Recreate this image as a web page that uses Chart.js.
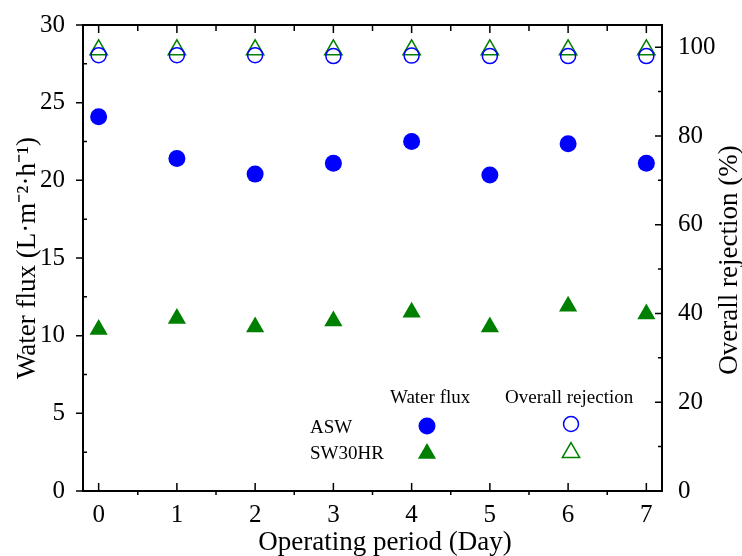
<!DOCTYPE html>
<html>
<head>
<meta charset="utf-8">
<script src="https://cdn.jsdelivr.net/npm/chart.js@4"></script>
<style>
  html, body { margin: 0; padding: 0; background: #fff; }
  #wrap { width: 742px; height: 556px; }
</style>
</head>
<body>
<div id="wrap"><canvas id="chart" width="742" height="556"></canvas></div>
<script>
// Datos
const days = [0, 1, 2, 3, 4, 5, 6, 7];
const aswFlux = [24.1, 21.4, 20.4, 21.1, 22.5, 20.35, 22.35, 21.1];
const sw30Flux = [10.4, 11.1, 10.55, 10.95, 11.5, 10.55, 11.9, 11.4];
const aswRejection = [98.2, 98.2, 98.2, 98.0, 98.1, 98.0, 98.0, 98.0];
const sw30Rejection = [99.4, 99.4, 99.4, 99.4, 99.4, 99.4, 99.4, 99.4];

const xTicks = [0, 1, 2, 3, 4, 5, 6, 7];
const fluxTicks = [0, 5, 10, 15, 20, 25, 30];
const rejTicks = [0, 20, 40, 60, 80, 100];

const BLUE = '#0000ff';
const GREEN = '#008000';
const FONT = "'Liberation Serif', 'Times New Roman', serif";

function pts(ys) {
  return days.map((d, i) => ({ x: d, y: ys[i] }));
}

// Ejes, marcas y leyenda dibujados a mano
const framePlugin = {
  id: 'frame',
  afterDraw(chart) {
    const ctx = chart.ctx;
    const a = chart.chartArea;
    const sx = chart.scales.x, sy = chart.scales.y, sr = chart.scales.y2;
    ctx.save();
    ctx.strokeStyle = '#000';
    ctx.lineWidth = 1.5;
    ctx.beginPath();
    // eje x: mayores hacia dentro, menores hacia fuera
    xTicks.forEach(v => {
      const px = sx.getPixelForValue(v);
      ctx.moveTo(px, a.bottom); ctx.lineTo(px, a.bottom - 8);
      ctx.moveTo(px, a.top); ctx.lineTo(px, a.top + 8);
    });
    for (let v = 0.5; v < 7.2; v += 1) {
      const px = sx.getPixelForValue(v);
      ctx.moveTo(px, a.bottom); ctx.lineTo(px, a.bottom + 4);
      ctx.moveTo(px, a.top); ctx.lineTo(px, a.top + 6);
    }
    // eje izquierdo: mayores hacia fuera, menores hacia dentro
    fluxTicks.forEach(v => {
      const py = sy.getPixelForValue(v);
      ctx.moveTo(a.left, py); ctx.lineTo(a.left - 7, py);
    });
    for (let v = 2.5; v < 30; v += 5) {
      const py = sy.getPixelForValue(v);
      ctx.moveTo(a.left, py); ctx.lineTo(a.left + 4, py);
    }
    // eje derecho: todo hacia dentro
    rejTicks.forEach(v => {
      const py = sr.getPixelForValue(v);
      ctx.moveTo(a.right, py); ctx.lineTo(a.right - 7, py);
    });
    for (let v = 10; v < 105; v += 20) {
      const py = sr.getPixelForValue(v);
      ctx.moveTo(a.right, py); ctx.lineTo(a.right - 4, py);
    }
    ctx.stroke();

    ctx.lineWidth = 2;
    ctx.strokeRect(a.left, a.top, a.right - a.left, a.bottom - a.top);

    // títulos de los ejes
    ctx.fillStyle = '#000';
    ctx.font = '27px ' + FONT;
    ctx.textAlign = 'center';
    ctx.textBaseline = 'middle';
    ctx.fillText('Operating period (Day)', 385, 543);

    ctx.save();
    ctx.translate(28, (a.top + a.bottom) / 2);
    ctx.rotate(-Math.PI / 2);
    ctx.fillText('Water flux (L\u00B7m\u207B\u00B2\u00B7h\u207B\u00B9)', 0, 0);
    ctx.restore();

    ctx.save();
    ctx.translate(730, (a.top + a.bottom) / 2 + 2);
    ctx.rotate(-Math.PI / 2);
    ctx.fillText('Overall rejection (%)', 0, 0);
    ctx.restore();

    // leyenda
    ctx.font = '19px ' + FONT;
    ctx.textAlign = 'left';
    ctx.fillText('Water flux', 390, 398);
    ctx.fillText('Overall rejection', 505, 398);
    ctx.fillText('ASW', 310, 428);
    ctx.fillText('SW30HR', 310, 454);

    ctx.fillStyle = BLUE;
    ctx.beginPath(); ctx.arc(427, 426, 8.5, 0, Math.PI * 2); ctx.fill();
    ctx.fillStyle = GREEN;
    tri(ctx, 427, 453.5, 10.5); ctx.fill();
    ctx.strokeStyle = BLUE; ctx.lineWidth = 1.5;
    ctx.beginPath(); ctx.arc(571, 424, 7.5, 0, Math.PI * 2); ctx.stroke();
    ctx.strokeStyle = GREEN;
    tri(ctx, 571, 452.5, 10); ctx.stroke();
    ctx.restore();
  }
};

function tri(ctx, x, y, r) {
  ctx.beginPath();
  ctx.moveTo(x, y - r);
  ctx.lineTo(x + r * Math.sin(2 * Math.PI / 3), y - r * Math.cos(2 * Math.PI / 3));
  ctx.lineTo(x + r * Math.sin(4 * Math.PI / 3), y - r * Math.cos(4 * Math.PI / 3));
  ctx.closePath();
}

const tickFont = { family: FONT, size: 25 };

new Chart(document.getElementById('chart').getContext('2d'), {
  type: 'scatter',
  data: {
    datasets: [
      {
        label: 'ASW water flux',
        data: pts(aswFlux),
        yAxisID: 'y',
        pointStyle: 'circle',
        pointRadius: 8.5,
        backgroundColor: BLUE,
        borderColor: BLUE,
        borderWidth: 0
      },
      {
        label: 'SW30HR water flux',
        data: pts(sw30Flux),
        yAxisID: 'y',
        pointStyle: 'triangle',
        pointRadius: 10.5,
        backgroundColor: GREEN,
        borderColor: GREEN,
        borderWidth: 0
      },
      {
        label: 'ASW rejection',
        data: pts(aswRejection),
        yAxisID: 'y2',
        pointStyle: 'circle',
        pointRadius: 7.5,
        backgroundColor: 'rgba(0,0,0,0)',
        borderColor: BLUE,
        borderWidth: 1.5
      },
      {
        label: 'SW30HR rejection',
        data: pts(sw30Rejection),
        yAxisID: 'y2',
        pointStyle: 'triangle',
        pointRadius: 10,
        backgroundColor: 'rgba(0,0,0,0)',
        borderColor: GREEN,
        borderWidth: 1.5
      }
    ]
  },
  options: {
    responsive: false,
    animation: false,
    layout: { padding: { top: 25, left: 0, right: 0, bottom: 0 } },
    plugins: {
      legend: { display: false },
      tooltip: { enabled: false }
    },
    scales: {
      x: {
        type: 'linear',
        min: -0.2,
        max: 7.2,
        afterBuildTicks: s => { s.ticks = xTicks.map(v => ({ value: v })); },
        afterFit: s => { s.height = 65; },
        grid: { display: false },
        border: { display: false },
        ticks: { color: '#000', font: tickFont, padding: 1, maxRotation: 0 }
      },
      y: {
        position: 'left',
        min: 0,
        max: 30,
        afterBuildTicks: s => { s.ticks = fluxTicks.map(v => ({ value: v })); },
        afterFit: s => { s.width = 83; },
        grid: { display: false },
        border: { display: false },
        ticks: { color: '#000', font: tickFont, padding: 10 }
      },
      y2: {
        position: 'right',
        min: 0,
        max: 105,
        afterBuildTicks: s => { s.ticks = rejTicks.map(v => ({ value: v })); },
        afterFit: s => { s.width = 80; },
        grid: { display: false },
        border: { display: false },
        ticks: { color: '#000', font: tickFont, padding: 8 }
      }
    }
  },
  plugins: [framePlugin]
});
</script>
</body>
</html>
